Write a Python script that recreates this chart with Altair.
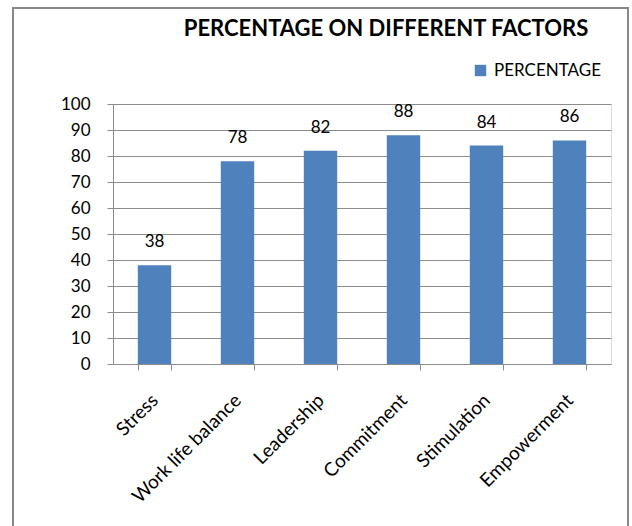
import altair as alt
import pandas as pd

categories = ["Stress", "Work life balance", "Leadership", "Commitment", "Stimulation", "Empowerment"]
percentages = [38, 78, 82, 88, 84, 86]
series_name = "PERCENTAGE"
y_ticks = [0, 10, 20, 30, 40, 50, 60, 70, 80, 90, 100]

df = pd.DataFrame({
    "factor": categories,
    "value": percentages,
    "series": [series_name] * len(categories),
})

FONT = "Lato"
GRAY = "#8c8c8c"

x_enc = alt.X(
    "factor:N",
    sort=categories,
    scale=alt.Scale(paddingInner=0.6, paddingOuter=0.3),
    axis=alt.Axis(
        title=None,
        tickBand="extent",
        labelAngle=-45,
        labelAlign="right",
        labelBaseline="middle",
        labelFontSize=19,
        labelFont=FONT,
        labelColor="black",
        labelPadding=27,
        labelOverlap=False,
        tickSize=6,
        tickColor=GRAY,
        domainColor=GRAY,
        grid=False,
    ),
)
y_enc = alt.Y(
    "value:Q",
    scale=alt.Scale(domain=[0, 100], nice=False),
    axis=alt.Axis(
        title=None,
        values=y_ticks,
        labelOverlap=False,
        labelFontSize=17,
        labelFont=FONT,
        labelColor="black",
        labelPadding=17,
        tickSize=6,
        tickColor=GRAY,
        domainColor=GRAY,
        gridColor=GRAY,
        gridWidth=1,
    ),
)

bars = alt.Chart(df).mark_bar(size=33.4).encode(
    x=x_enc,
    y=y_enc,
    color=alt.Color(
        "series:N",
        scale=alt.Scale(range=["#4F81BD"]),
        legend=alt.Legend(
            title=None,
            orient="none",
            legendX=359,
            legendY=-42,
            symbolType="square",
            symbolSize=130,
            symbolStrokeWidth=0,
            labelFontSize=17,
            labelFont=FONT,
            labelColor="black",
            labelOffset=5,
            padding=0,
        ),
    ),
)

labels = alt.Chart(df).mark_text(
    dy=-23, baseline="middle", fontSize=17, font=FONT, color="black"
).encode(
    x=x_enc,
    y=y_enc,
    text="value:Q",
)

frame = alt.Chart(df).mark_rect(
    fill=None, stroke="#888888", strokeWidth=2
).encode(
    x=alt.value(-100), x2=alt.value(515), y=alt.value(-96), y2=alt.value(440)
)

chart = alt.layer(bars, labels, frame).properties(
    width=498,
    height=260,
    autosize=alt.AutoSizeParams(type="none"),
    padding={"left": 113, "top": 104, "right": 21, "bottom": 162},
    title=alt.Title(
        "PERCENTAGE ON DIFFERENT FACTORS",
        font=FONT,
        fontSize=22,
        fontWeight="bold",
        color="black",
        anchor="middle",
        frame="group",
        baseline="alphabetic",
        offset=-51,
        dx=24,
    ),
).configure_view(stroke=None).configure(background="white")

chart.save("out.html", embed_options={"renderer": "svg", "actions": False})
